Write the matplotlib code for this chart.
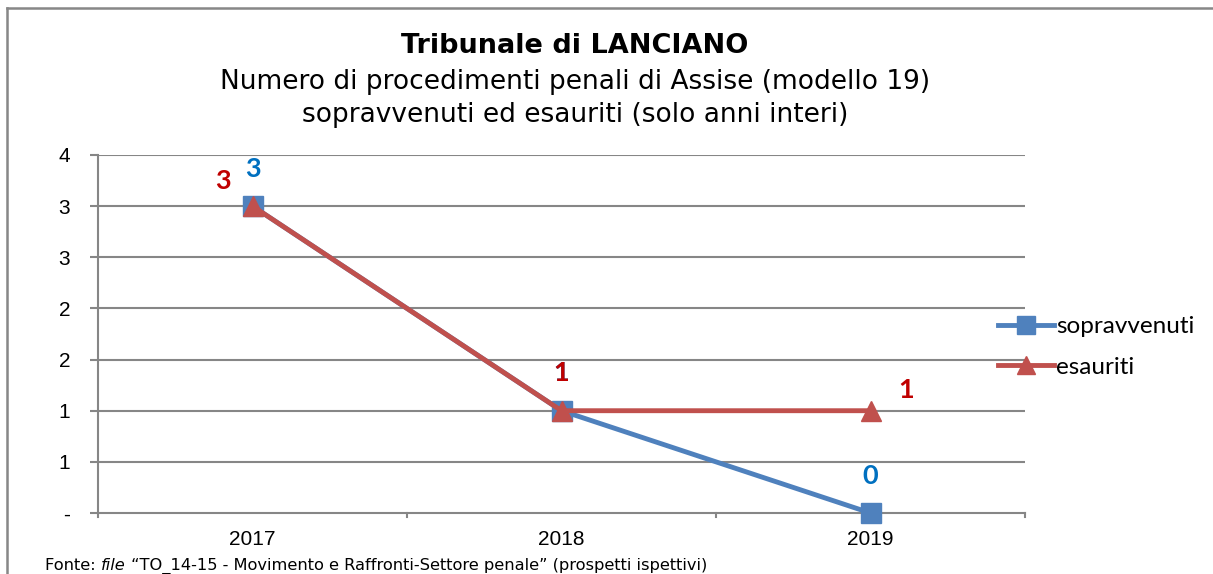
import matplotlib
matplotlib.use("Agg")
import matplotlib.pyplot as plt
from matplotlib.lines import Line2D

years = ["2017", "2018", "2019"]
sopravvenuti = [3, 1, 0]
esauriti = [3, 1, 1]
y_ticks = [0, 0.5, 1, 1.5, 2, 2.5, 3, 3.5]
y_tick_labels = ["-", "1", "1", "2", "2", "3", "3", "4"]

title1 = "Tribunale di LANCIANO"
title2 = "Numero di procedimenti penali di Assise (modello 19)"
title3 = "sopravvenuti ed esauriti (solo anni interi)"

W, H = 1213, 574
fig = plt.figure(figsize=(W / 100, H / 100), dpi=100)

ax = fig.add_axes([98 / W, 1 - 513 / H, (1025 - 98) / W, (513 - 155) / H])
x = list(range(len(years)))

grid_c = "#868686"
for yv in y_ticks[1:]:
    ax.axhline(yv, color=grid_c, lw=1.5, zorder=1)

blue_line = "#4F81BD"
red_line = "#C0504D"
ax.plot(x, sopravvenuti, color=blue_line, lw=3.5, marker="s", markersize=14,
        zorder=3, label="sopravvenuti", solid_capstyle="round", clip_on=False)
ax.plot(x, esauriti, color=red_line, lw=3.5, marker="^", markersize=15,
        zorder=4, label="esauriti", solid_capstyle="round", clip_on=False)

ax.set_xlim(-0.5, len(years) - 0.5)
ax.set_ylim(0, 3.5)
ax.set_yticks(y_ticks)
ax.set_yticklabels(y_tick_labels, fontsize=15, family="Liberation Sans")
ax.set_xticks(x)
ax.set_xticklabels(years, fontsize=15, family="Liberation Sans")
ax.tick_params(axis="x", length=0, pad=12)
ax.tick_params(axis="y", length=6, width=1.5, color=grid_c, pad=14)
for b in [-0.5, 0.5, 1.5, 2.5]:
    ax.plot([b, b], [0, -0.04], color=grid_c, lw=1.5, clip_on=False, zorder=2)

for s in ["top", "right"]:
    ax.spines[s].set_visible(False)
for s in ["left", "bottom"]:
    ax.spines[s].set_color(grid_c)
    ax.spines[s].set_linewidth(1.5)

blue_txt = "#0070C0"
red_txt = "#C00000"
lab_kw = dict(fontsize=19.5, fontweight="bold", family="Lato", ha="center", va="center",
              textcoords="offset pixels")
blue_off = [(0, 37), (0, 38), (0, 37)]
red_off = [(-30, 25), (0, 38), (36, 21)]
for i in range(len(years)):
    ax.annotate(f"{sopravvenuti[i]}", (x[i], sopravvenuti[i]), xytext=blue_off[i],
                color=blue_txt, zorder=5, annotation_clip=False, **lab_kw)
for i in range(len(years)):
    ax.annotate(f"{esauriti[i]}", (x[i], esauriti[i]), xytext=red_off[i],
                color=red_txt, zorder=6, annotation_clip=False, **lab_kw)

leg = fig.legend(handles=[
    Line2D([], [], color=blue_line, lw=3.5, marker="s", markersize=13, label="sopravvenuti"),
    Line2D([], [], color=red_line, lw=3.5, marker="^", markersize=13, label="esauriti")],
    loc="center left", bbox_to_anchor=(998 / W, 1 - 347 / H), frameon=False,
    prop={"family": "Lato", "size": 17.5}, handlelength=2.3, handletextpad=0.1,
    labelspacing=0.8, borderaxespad=0, borderpad=0)

cx = 575 / W
fig.text(cx, 1 - 46 / H, title1, ha="center", va="center", fontsize=19.5,
         fontweight="bold", family="DejaVu Sans")
fig.text(cx, 1 - 82 / H, title2, ha="center", va="center", fontsize=19,
         family="DejaVu Sans")
fig.text(cx, 1 - 115 / H, title3, ha="center", va="center", fontsize=19,
         family="DejaVu Sans")

fs = 11.7
fy = 1 - 566 / H
t1 = fig.text(45 / W, fy, "Fonte: ", ha="left", va="center", fontsize=fs, family="DejaVu Sans")
a2 = fig.add_artist(plt.Annotation("file", xy=(1, 0.5), xycoords=t1, ha="left", va="center",
                                   fontsize=fs, family="DejaVu Sans", style="italic"))
a3 = fig.add_artist(plt.Annotation(" \u201cTO_14-15 - Movimento e Raffronti-Settore penale\u201d (prospetti ispettivi)",
                                   xy=(1, 0.5), xycoords=a2, ha="left", va="center",
                                   fontsize=fs, family="DejaVu Sans"))

border_c = "#878787"
fig.add_artist(Line2D([7 / W, 1], [1 - 8 / H, 1 - 8 / H], color=border_c, lw=1.8))
fig.add_artist(Line2D([7 / W, 7 / W], [0, 1 - 8 / H], color=border_c, lw=1.8))

fig.savefig("out.png", dpi=100, facecolor="white")
